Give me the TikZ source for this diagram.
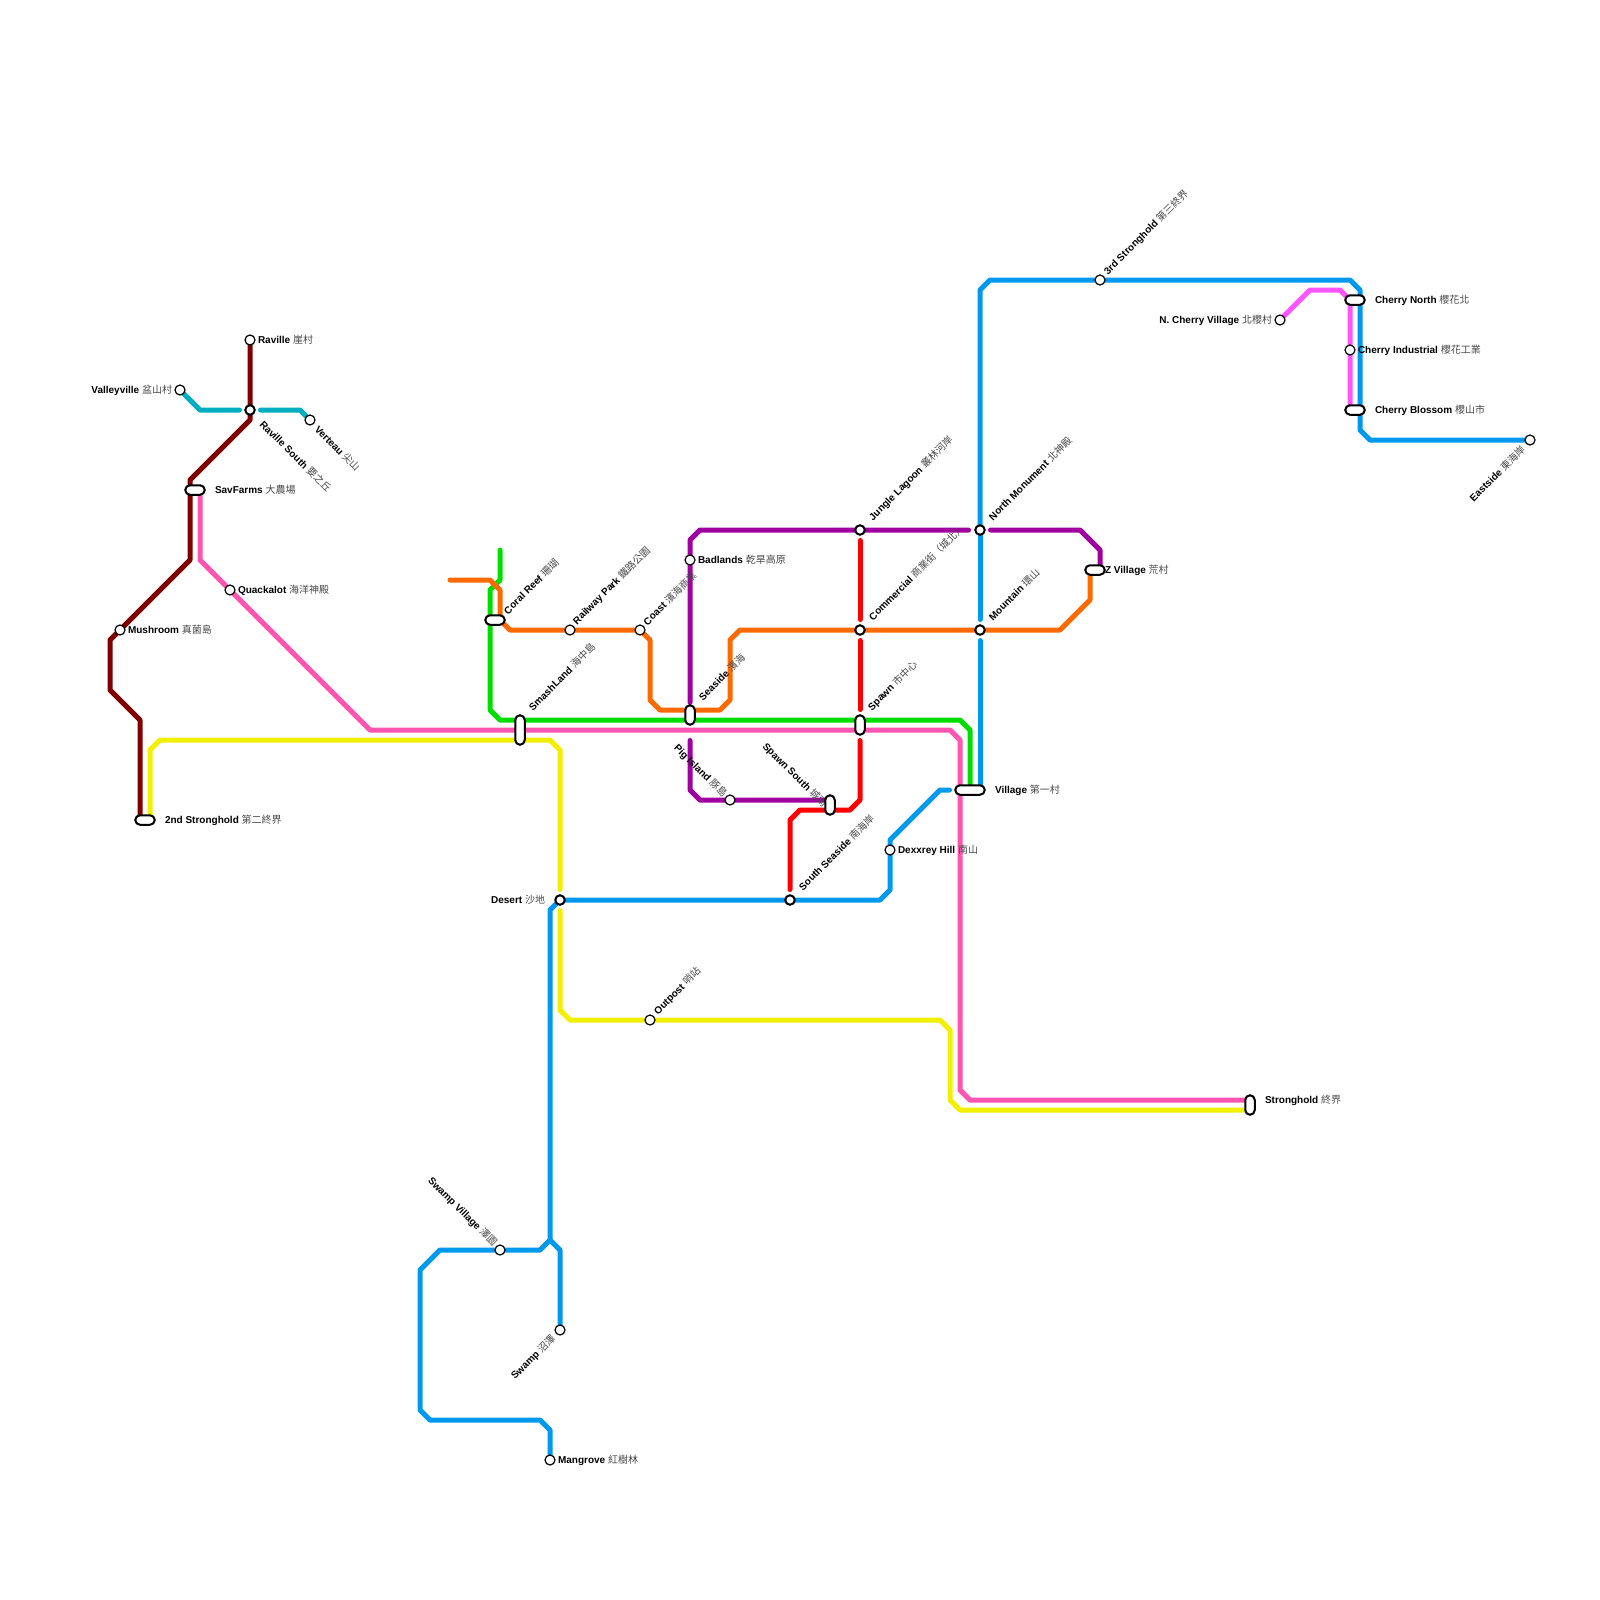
\documentclass[tikz,border=0pt]{standalone}
\usepackage{fontspec}
\setmainfont{Liberation Sans}
\newfontfamily\cjkf{Noto Sans CJK TC}
\usetikzlibrary{calc}
\pgfdeclarelayer{lines}
\pgfdeclarelayer{labels}
\pgfsetlayers{lines,labels,main}
\definecolor{cdarkred}{HTML}{800000}
\definecolor{cteal}{HTML}{00AEBF}
\definecolor{cpink}{HTML}{FF55B0}
\definecolor{cmagenta}{HTML}{FF55FF}
\definecolor{cyel}{HTML}{F0F000}
\definecolor{cgreen}{HTML}{00DD00}
\definecolor{corange}{HTML}{FF6A00}
\definecolor{cpurple}{HTML}{A000A0}
\definecolor{cred}{HTML}{FF0000}
\definecolor{cblue}{HTML}{0099EE}
\tikzset{
  stn/.style={circle,draw=black,fill=white,line width=1.2pt,minimum size=10pt,inner sep=0pt,outer sep=0pt},
  stnx/.style={stn,line width=2pt,minimum size=9.5pt},
  pillh/.style={rectangle,rounded corners=4.75pt,draw=black,fill=white,line width=2pt,minimum width=#1,minimum height=9.5pt,inner sep=0pt,outer sep=0pt},
  pillv/.style={rectangle,rounded corners=4.75pt,draw=black,fill=white,line width=2pt,minimum height=#1,minimum width=9.5pt,inner sep=0pt,outer sep=0pt},
  metro/.style={line width=5pt,line cap=round,line join=round,draw=#1},
  lbl/.style={inner sep=0pt,outer sep=0pt,font=\fontsize{10}{12}\selectfont},
  lr/.style={lbl,anchor=base west},
  ll/.style={lbl,anchor=base east},
  up/.style={lbl,anchor=base west,rotate=45},
  dn/.style={lbl,anchor=base west,rotate=-45},
  upl/.style={lbl,anchor=base east,rotate=-45},
  dnl/.style={lbl,anchor=base east,rotate=45},
}
\newcommand{\stlab}[6]{\node[#2] (#1-l) at ($(#1.center)+(#3,#4)$) {\textbf{#5} {\cjkf\color{black!72}#6}};}
\begin{document}
\begin{tikzpicture}[x=1pt,y=-1pt]
\useasboundingbox (0,0) rectangle (1600,1600);
% stations
\node[stn] (raville) at (250,340) {};
\node[stn] (valley) at (180,390) {};
\node[stnx] (ravs) at (250,410) {};
\node[stn] (verteau) at (310,420) {};
\node[pillh=19.5pt] (sav) at (195,490) {};
\node[stn] (quack) at (230,590) {};
\node[stn] (mush) at (120,630) {};
\node[pillh=19.5pt] (second) at (145,820) {};
\node[pillh=19.5pt] (coral) at (495,620) {};
\node[stn] (railway) at (570,630) {};
\node[stn] (coast) at (640,630) {};
\node[stn] (bad) at (690,560) {};
\node[pillv=29.5pt] (smash) at (520,730) {};
\node[pillv=19.5pt] (seaside) at (690,715) {};
\node[stn] (pig) at (730,800) {};
\node[stnx] (jungle) at (860,530) {};
\node[stnx] (north) at (980,530) {};
\node[stnx] (comm) at (860,630) {};
\node[stnx] (mount) at (980,630) {};
\node[pillv=19.5pt] (spawn) at (860,725) {};
\node[pillv=19.5pt] (spsouth) at (830,805) {};
\node[stnx] (ssea) at (790,900) {};
\node[stn] (dex) at (890,850) {};
\node[pillh=29.5pt] (village) at (970,790) {};
\node[pillh=19.5pt] (zv) at (1095,570) {};
\node[stn] (third) at (1100,280) {};
\node[stn] (ncv) at (1280,320) {};
\node[pillh=19.5pt] (cn) at (1355,300) {};
\node[stn] (ci) at (1350,350) {};
\node[pillh=19.5pt] (cb) at (1355,410) {};
\node[stn] (east) at (1530,440) {};
\node[pillv=19.5pt] (strong) at (1250,1105) {};
\node[stnx] (desert) at (560,900) {};
\node[stn] (outpost) at (650,1020) {};
\node[stn] (swampv) at (500,1250) {};
\node[stn] (swamp) at (560,1330) {};
\node[stn] (mang) at (550,1460) {};
\coordinate (orangeend) at (450,580);
\coordinate (greenend) at (500,550);
% lines
\begin{pgfonlayer}{lines}
\draw[metro=cdarkred] (raville.center) -- (ravs.center) -- (250,420) -- (190,480) -- ([xshift=-5pt]sav.center) -- (190,560) -- (mush.center) -- (110,640) -- (110,690) -- (140,720) -- ([xshift=-5pt]second.center);
\draw[metro=cteal,shorten >=10.5pt] (valley.center) -- (200,410) -- (ravs.center);
\draw[metro=cteal,shorten <=10.5pt] (ravs.center) -- (300,410) -- (verteau.center);
\draw[metro=cyel,shorten >=10.5pt] ([xshift=5pt]second.center) -- (150,750) -- (160,740) -- (550,740) -- (560,750) -- (desert.center);
\draw[metro=cyel,shorten <=10.5pt] (desert.center) -- (560,1010) -- (570,1020) -- (outpost.center) -- (940,1020) -- (950,1030) -- (950,1100) -- (960,1110) -- ([yshift=-5pt]strong.center);
\draw[metro=cgreen] (greenend) -- (500,580) -- (490,590) -- (490,710) -- (500,720) -- (960,720) -- (970,730) -- (village.center);
\draw[metro=cpink] ([xshift=5pt]sav.center) -- (200,560) -- (quack.center) -- (370,730) -- (950,730) -- (960,740) -- (960,1090) -- (970,1100) -- ([yshift=5pt]strong.center);
\draw[metro=corange] (orangeend) -- (490,580) -- (500,590) -- (500,620) -- (510,630) -- (railway.center) -- (coast.center) -- (650,640) -- (650,700) -- (660,710) -- (720,710) -- (730,700) -- (730,640) -- (740,630) -- (comm.center) -- (mount.center) -- (1060,630) -- (1090,600) -- ([xshift=-5pt]zv.center);
\draw[metro=cpurple,shorten <=12.5pt,shorten >=11.5pt] (seaside.center) -- (bad.center) -- (690,540) -- (700,530) -- (jungle.center) -- (north.center);
\draw[metro=cpurple,shorten <=10.5pt] (north.center) -- (1080,530) -- (1100,550) -- ([xshift=5pt]zv.center);
\draw[metro=cpurple,shorten <=25.5pt] (seaside.center) -- (690,790) -- (700,800) -- (pig.center) -- ([yshift=5pt]spsouth.center);
\draw[metro=cred,shorten <=10.5pt,shorten >=10.5pt] (jungle.center) -- (comm.center);
\draw[metro=cred,shorten <=10.5pt,shorten >=15.5pt] (comm.center) -- (spawn.center);
\draw[metro=cred,shorten <=15.5pt,shorten >=10.5pt] (spawn.center) -- (860,800) -- (850,810) -- ([yshift=-5pt]spsouth.center) -- (800,810) -- (790,820) -- (ssea.center);
\draw[metro=cblue] (north.center) -- (980,290) -- (990,280) -- (third.center) -- (1350,280) -- (1360,290) -- (1360,430) -- (1370,440) -- (east.center);
\draw[metro=cblue,shorten >=10.5pt] (north.center) -- (mount.center);
\draw[metro=cblue,shorten <=10.5pt] (mount.center) -- (980,790);
\draw[metro=cblue,shorten <=20.5pt] (village.center) -- (940,790) -- (890,840) -- (dex.center) -- (890,890) -- (880,900) -- (ssea.center) -- (desert.center) -- (550,910) -- (550,1240) -- (540,1250) -- (swampv.center) -- (440,1250) -- (420,1270) -- (420,1410) -- (430,1420) -- (540,1420) -- (550,1430) -- (mang.center);
\draw[metro=cblue] (550,1240) -- (560,1250) -- (swamp.center);
\draw[metro=cmagenta] (ncv.center) -- (1310,290) -- (1340,290) -- ([xshift=-5pt]cn.center) -- (ci.center) -- ([xshift=-5pt]cb.center);
\end{pgfonlayer}
% labels
\begin{pgfonlayer}{labels}
\stlab{raville}{lr}{8}{3.5}{Raville}{崖村}
\stlab{valley}{ll}{-8}{3.5}{Valleyville}{盆山村}
\stlab{ravs}{dn}{9}{15}{Raville South}{要之丘}
\stlab{verteau}{dn}{4}{10}{Verteau}{尖山}
\stlab{sav}{lr}{20}{3.5}{SavFarms}{大農場}
\stlab{quack}{lr}{8}{3.5}{Quackalot}{海洋神殿}
\stlab{mush}{lr}{8}{3.5}{Mushroom}{真菌島}
\stlab{second}{lr}{20}{3.5}{2nd Stronghold}{第二終界}
\stlab{coral}{up}{13}{-5}{Coral Reef}{珊瑚}
\stlab{railway}{up}{7}{-5}{Railway Park}{鐵路公園}
\stlab{coast}{up}{7.5}{-4}{Coast}{濱海商業}
\stlab{bad}{lr}{8}{3.5}{Badlands}{乾旱高原}
\stlab{smash}{up}{13}{-19}{SmashLand}{海中島}
\stlab{seaside}{up}{13}{-14}{Seaside}{濱海}
\stlab{pig}{upl}{-7}{-2}{Pig Island}{豚島}
\stlab{jungle}{up}{13}{-9}{Jungle Lagoon}{叢林河岸}
\stlab{north}{up}{13}{-9}{North Monument}{北神殿}
\stlab{comm}{up}{13}{-9}{Commercial}{商業街（城北）}
\stlab{mount}{up}{13}{-9}{Mountain}{環山}
\stlab{spawn}{up}{12}{-14}{Spawn}{市中心}
\stlab{spsouth}{upl}{-7}{3}{Spawn South}{城南}
\stlab{ssea}{up}{13}{-9}{South Seaside}{南海岸}
\stlab{dex}{lr}{8}{3.5}{Dexxrey Hill}{南山}
\stlab{village}{lr}{25}{3.5}{Village}{第一村}
\stlab{zv}{lr}{10}{3.5}{Z Village}{荒村}
\stlab{third}{up}{8}{-5}{3rd Stronghold}{第三終界}
\stlab{ncv}{ll}{-8}{3.5}{N. Cherry Village}{北櫻村}
\stlab{cn}{lr}{20}{3.5}{Cherry North}{櫻花北}
\stlab{ci}{lr}{8}{3.5}{Cherry Industrial}{櫻花工業}
\stlab{cb}{lr}{20}{3.5}{Cherry Blossom}{櫻山市}
\stlab{east}{dnl}{-4}{10}{Eastside}{東海岸}
\stlab{strong}{lr}{15}{-1.5}{Stronghold}{終界}
\stlab{desert}{ll}{-15}{3.5}{Desert}{沙地}
\stlab{outpost}{up}{8}{-5}{Outpost}{哨站}
\stlab{swampv}{upl}{-7}{-3}{Swamp Village}{澤園}
\stlab{swamp}{dnl}{-4}{9}{Swamp}{沼澤}
\stlab{mang}{lr}{8}{3.5}{Mangrove}{紅樹林}
\end{pgfonlayer}
\end{tikzpicture}
\end{document}
